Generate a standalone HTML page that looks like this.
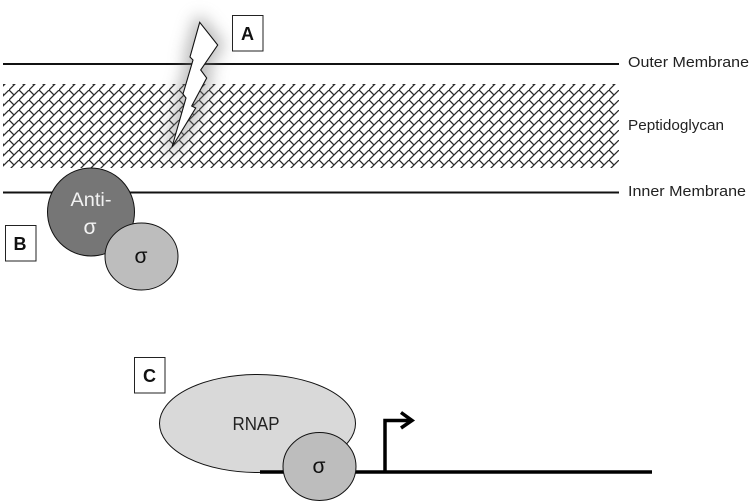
<!DOCTYPE html>
<html><head><meta charset="utf-8"><style>
html,body{margin:0;padding:0;background:#fff}
svg{display:block}
text{font-family:"Liberation Sans",sans-serif;fill:#222}
</style></head><body>
<svg width="752" height="504" viewBox="0 0 752 504" xmlns="http://www.w3.org/2000/svg">
<defs>
<pattern id="sh" width="10" height="10" patternUnits="userSpaceOnUse" patternTransform="translate(-1 0)">
<path d="M-1 11L11 -1M0 0L5 5M10 0L15 5M-10 0L-5 5M0 10L5 15" stroke="#2a2a2a" stroke-width="1.25" fill="none"/>
</pattern>
<filter id="gl" x="-150%" y="-60%" width="400%" height="220%"><feGaussianBlur stdDeviation="8"/></filter>
</defs>
<rect x="3" y="84" width="616" height="84" fill="url(#sh)"/>
<line x1="3" y1="64" x2="619" y2="64" stroke="#111" stroke-width="2"/>
<line x1="3" y1="192.500" x2="619" y2="192.500" stroke="#111" stroke-width="2"/>
<polygon points="199.700,22.300 217.700,45 200.700,70 206.700,78 191.700,106 195.700,108 172,147 186,98 183,94 193,60 190,57" fill="#777" stroke="#777" stroke-width="12" stroke-linejoin="round" opacity=".5" filter="url(#gl)"/>
<polygon points="199.700,22.300 217.700,45 200.700,70 206.700,78 191.700,106 195.700,108 172,147 186,98 183,94 193,60 190,57" fill="#fff" stroke="#111" stroke-width="1.1" stroke-linejoin="miter"/>
<rect x="232.500" y="15.500" width="30.500" height="35.500" fill="#fff" stroke="#222" stroke-width="1"/>
<text x="247.500" y="40" font-size="18" font-weight="700" text-anchor="middle" style="fill:#111">A</text>
<rect x="5.500" y="225.500" width="30.500" height="35.500" fill="#fff" stroke="#222" stroke-width="1"/>
<text x="20" y="250" font-size="18" font-weight="700" text-anchor="middle" style="fill:#111">B</text>
<rect x="134.500" y="357.500" width="30.500" height="35.500" fill="#fff" stroke="#222" stroke-width="1"/>
<text x="149.500" y="382" font-size="18" font-weight="700" text-anchor="middle" style="fill:#111">C</text>
<text x="628" y="67" font-size="15" textLength="121" lengthAdjust="spacingAndGlyphs">Outer Membrane</text>
<text x="628" y="130" font-size="15" textLength="96" lengthAdjust="spacingAndGlyphs">Peptidoglycan</text>
<text x="628" y="196" font-size="15" textLength="118" lengthAdjust="spacingAndGlyphs">Inner Membrane</text>
<ellipse cx="91" cy="212" rx="43.500" ry="44" fill="#767676" stroke="#111" stroke-width="1"/>
<text x="91" y="206" font-size="19" text-anchor="middle" textLength="41" lengthAdjust="spacingAndGlyphs" style="fill:#f2f2f2">Anti-</text>
<text x="90" y="234" font-size="21" text-anchor="middle" style="fill:#f2f2f2">σ</text>
<ellipse cx="141.500" cy="256.500" rx="36.500" ry="33.500" fill="#bdbdbd" stroke="#111" stroke-width="1"/>
<text x="141" y="263" font-size="21" text-anchor="middle" style="fill:#111">σ</text>
<ellipse cx="257.500" cy="423.500" rx="98" ry="49" fill="#d9d9d9" stroke="#111" stroke-width="1"/>
<text x="256" y="430" font-size="18" text-anchor="middle" textLength="47" lengthAdjust="spacingAndGlyphs">RNAP</text>
<line x1="260" y1="472" x2="652" y2="472" stroke="#000" stroke-width="3.500"/>
<path d="M385 472V420.500H410" fill="none" stroke="#000" stroke-width="3.500"/>
<path d="M401 412.500L412 420.500L401 428" fill="none" stroke="#000" stroke-width="3.500"/>
<ellipse cx="319.500" cy="466.500" rx="36.500" ry="34" fill="#bdbdbd" stroke="#111" stroke-width="1"/>
<text x="319" y="473" font-size="21" text-anchor="middle" style="fill:#111">σ</text>
</svg>
</body></html>
